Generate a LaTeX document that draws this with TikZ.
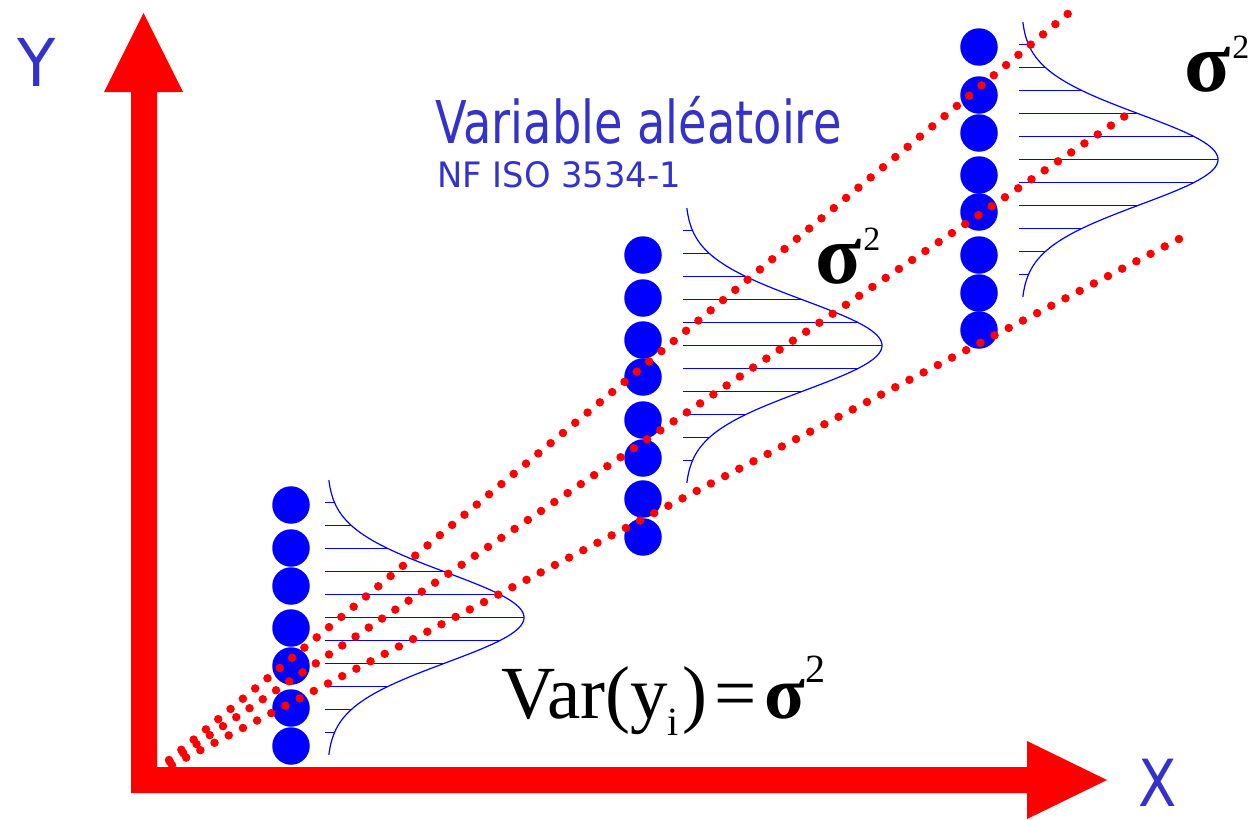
\documentclass[tikz,border=0pt]{standalone}
\usepackage{fontspec}
\usepackage{graphicx}
\setmainfont{DejaVu Sans}
\newfontfamily\tms{Liberation Serif}
\definecolor{txtblue}{RGB}{51,51,204}
\begin{document}
\begin{tikzpicture}[x=1pt,y=-1pt,
  axisshape/.style={fill=red, draw=none},
  bead/.style={circle, fill=blue, draw=none, inner sep=0pt, minimum size=37.5pt},
  reddots/.style={red, line width=8.5pt, line cap=round, dash pattern=on 0pt off 16pt},
  bell/.style={blue, line width=1.2pt},
  hatch/.style={blue, line width=1.2pt},
  lbl/.style={inner sep=0pt, anchor=base west},
  bluetxt/.style={inner sep=0pt, text=txtblue}]
\useasboundingbox (0,0) rectangle (1255,819);
% axes
\fill[axisshape] (131,793) -- (131,92) -- (104,92) -- (143.5,13) -- (183,92) -- (157,92)
  -- (157,767) -- (1027,767) -- (1027,741) -- (1107,780) -- (1027,819) -- (1027,793) -- cycle;
% bell curves with hatching
\foreach \bx/\cy in {327/617.5, 685/345.5, 1021/159.5}{
  \foreach \k in {-5,...,5}{
    \draw[hatch] (\bx-2,\cy+23*\k) -- ({\bx+197*exp(-((23*\k/45)^2)/2)},\cy+23*\k);
  }
  \draw[bell] plot[domain=-137.5:137.5, samples=120, smooth] ({\bx+197*exp(-((\x/45)^2)/2)},{\cy+\x});
}
% beads
\foreach \y [count=\i] in {505,548,586,628,666,708,746}{
  \node[bead] (p1-\i) at (291,\y) {};
}
\foreach \y [count=\i] in {255,298,340,377,420,458,499,537}{
  \node[bead] (p2-\i) at (643,\y) {};
}
\foreach \y [count=\i] in {47,95,133,175,212,255,293,330}{
  \node[bead] (p3-\i) at (979,\y) {};
}
% dotted regression lines
\coordinate (a0) at (169,760);
\coordinate (a1) at (1070,12);
\coordinate (b0) at (170,762);
\coordinate (b1) at (1125,116);
\coordinate (c0) at (172,765);
\coordinate (c1) at (1179,239);
\draw[reddots] (a0) -- (a1);
\draw[reddots] (b0) -- (b1);
\draw[reddots] (c0) -- (c1);
% texts
\node[lbl, bluetxt] (title) at (435,143) {\scalebox{0.785}[1]{\fontsize{59}{59}\selectfont Variable aléatoire}};
\node[lbl, bluetxt] (norm) at (437,187) {\scalebox{0.965}[1]{\fontsize{35}{35}\selectfont NF ISO 3534-1}};
\node[bluetxt, anchor=base, text depth=0pt] (xlab) at (1158,806) {\scalebox{0.86}[1]{\fontsize{65}{65}\selectfont X}};
\node[bluetxt, anchor=base] (ylab) at (37,86) {\scalebox{0.95}[1]{\fontsize{66}{66}\selectfont Y}};
\node[lbl] (sig2) at (815,283) {\tms\fontsize{85}{85}\selectfont\textbf{σ}\hspace{2pt}\raisebox{33pt}{\fontsize{34}{34}\selectfont 2}};
\node[lbl] (sig3) at (1184,91) {\tms\fontsize{85}{85}\selectfont\textbf{σ}\hspace{2pt}\raisebox{33pt}{\fontsize{34}{34}\selectfont 2}};
\node[lbl] (vareq) at (501,718) {\tms\fontsize{75}{75}\selectfont Var(y\raisebox{-17pt}{\fontsize{40}{40}\selectfont i}\hspace{4pt})\hspace{7pt}=\hspace{7pt}\textbf{σ}\hspace{1pt}\raisebox{36pt}{\fontsize{40}{40}\selectfont 2}};
\end{tikzpicture}
\end{document}
